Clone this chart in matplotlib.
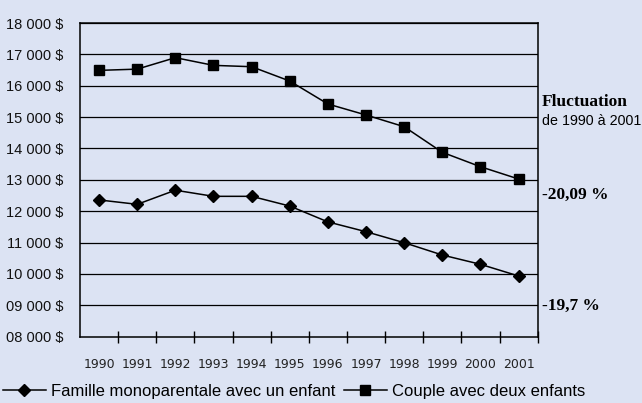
import matplotlib
matplotlib.use("Agg")
import matplotlib.pyplot as plt
from matplotlib.lines import Line2D

years = ["1990", "1991", "1992", "1993", "1994", "1995",
         "1996", "1997", "1998", "1999", "2000", "2001"]
monoparentale = [12360, 12220, 12670, 12475, 12475, 12165,
                 11660, 11347, 10997, 10604, 10308, 9935]
couple = [16490, 16530, 16895, 16650, 16607, 16150,
          15418, 15067, 14694, 13878, 13419, 13027]
ytick_vals = [8000, 9000, 10000, 11000, 12000, 13000, 14000, 15000,
              16000, 17000, 18000]
ytick_labels = ["08 000 $", "09 000 $", "10 000 $", "11 000 $", "12 000 $",
                "13 000 $", "14 000 $", "15 000 $", "16 000 $", "17 000 $",
                "18 000 $"]
legend_labels = ["Famille monoparentale avec un enfant", "Couple avec deux enfants"]
side_title = ["Fluctuation", "de 1990 à 2001"]
side_values = ["-20,09 %", "-19,7 %"]

BG = "#DCE3F3"
sans = ["Liberation Sans", "DejaVu Sans"]

fig = plt.figure(figsize=(6.42, 4.03), dpi=100, facecolor=BG)
ax = fig.add_axes([0.1246, 0.1645, 0.7129, 0.7784])
ax.set_facecolor(BG)

x = list(range(len(years)))
ax.plot(x, monoparentale, color="black", lw=1.1, marker="D", markersize=6.5,
        markerfacecolor="black", markeredgecolor="black", zorder=3)
ax.plot(x, couple, color="black", lw=1.1, marker="s", markersize=7,
        markerfacecolor="black", markeredgecolor="black", zorder=3)

ax.set_xlim(-0.5, len(years) - 0.5)
ax.set_ylim(8000, 18000)
ax.set_yticks(ytick_vals)
ax.set_yticklabels(ytick_labels, fontfamily=sans, fontsize=10.5, color="#111111")
ax.tick_params(axis="y", length=0, pad=12)
for v in ytick_vals[1:]:
    ax.axhline(v, color="black", lw=0.9, zorder=1)

ax.set_xticks(x)
ax.set_xticklabels(years, fontfamily="DejaVu Sans", fontsize=9, color="#222222")
ax.set_xticks([i - 0.5 for i in range(1, len(years) + 1)], minor=True)
ax.tick_params(axis="x", which="major", length=0, pad=15)
ax.tick_params(axis="x", which="minor", length=9, direction="inout", width=1)

for s in ax.spines.values():
    s.set_color("black")
    s.set_linewidth(1.1)

# side annotations
fig.text(541.5 / 642, 1 - 101.5 / 403, side_title[0], fontfamily="Liberation Serif",
         fontweight="bold", fontsize=12.5, va="center", ha="left")
fig.text(541.5 / 642, 1 - 121 / 403, side_title[1], fontfamily=sans,
         fontsize=10.3, va="center", ha="left")
fig.text(541.5 / 642, 1 - 195 / 403, side_values[0], fontfamily="Liberation Serif",
         fontweight="bold", fontsize=12.5, va="center", ha="left")
fig.text(541.5 / 642, 1 - 306 / 403, side_values[1], fontfamily="Liberation Serif",
         fontweight="bold", fontsize=12.5, va="center", ha="left")

handles = [Line2D([], [], color="black", lw=1.1, marker="D", markersize=6.5),
           Line2D([], [], color="black", lw=1.1, marker="s", markersize=7)]
fig.legend(handles, legend_labels, loc="center left",
           bbox_to_anchor=(0.004, 1 - 391.5 / 403), ncol=2, frameon=False,
           prop={"family": "Liberation Sans", "size": 12},
           handlelength=2.6, handletextpad=0.3, columnspacing=0.5,
           borderpad=0, borderaxespad=0)

fig.savefig("out.png", dpi=100, facecolor=BG)
